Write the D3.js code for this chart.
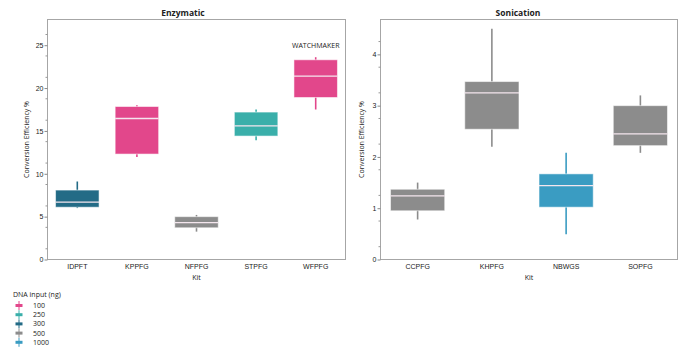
<!DOCTYPE html>
<html>
<head>
<meta charset="utf-8">
<script src="https://cdn.jsdelivr.net/npm/d3@7"></script>
<style>
  body { margin: 0; background: #fff; font-family: "Open Sans", "Noto Sans", sans-serif; }
  svg text { fill: #222; }
</style>
</head>
<body>
<script>
// Enzymatic panel data
var enzKits = ["IDPFT", "KPPFG", "NFPFG", "STPFG", "WFPFG"];
var enzInput = ["300", "100", "500", "250", "100"];
var enzMin = [6.0, 11.95, 3.25, 13.9, 17.5];
var enzQ1 = [6.1, 12.3, 3.7, 14.4, 18.9];
var enzMed = [6.7, 16.45, 4.3, 15.6, 21.4];
var enzQ3 = [8.1, 17.85, 5.0, 17.2, 23.3];
var enzMax = [9.1, 18.0, 5.2, 17.5, 23.6];
var enzTicks = [0, 5, 10, 15, 20, 25];

// Sonication panel data
var sonKits = ["CCPFG", "KHPFG", "NBWGS", "SOPFG"];
var sonInput = ["500", "500", "1000", "500"];
var sonMin = [0.78, 2.2, 0.49, 2.08];
var sonQ1 = [0.95, 2.54, 1.02, 2.22];
var sonMed = [1.24, 3.25, 1.44, 2.45];
var sonQ3 = [1.37, 3.47, 1.67, 3.0];
var sonMax = [1.5, 4.5, 2.08, 3.2];
var sonTicks = [0, 1, 2, 3, 4];

// Legende
var legendLabels = ["100", "250", "300", "500", "1000"];
var legendColors = ["#e2478b", "#3aafaa", "#236b86", "#8c8c8c", "#3a9cc2"];

var color = d3.scaleOrdinal().domain(legendLabels).range(legendColors);

var svg = d3.select("body").append("svg")
    .attr("width", 689)
    .attr("height", 354);

// ein Panel zeichnen
function panel(cfg) {
    var rows = cfg.kits.map((k, i) => ({
        kit: k, input: cfg.input[i], min: cfg.min[i], q1: cfg.q1[i],
        med: cfg.med[i], q3: cfg.q3[i], max: cfg.max[i]
    }));

    var x = d3.scaleBand().domain(cfg.kits).range([cfg.left, cfg.right]).padding(0);
    var y = d3.scaleLinear().domain([0, cfg.top]).range([259.5, 19.5]);
    var bw = x.bandwidth() * 0.73;

    var g = svg.append("g");

    // Rahmen
    g.append("rect")
        .attr("x", cfg.left).attr("y", 19.5)
        .attr("width", cfg.right - cfg.left).attr("height", 240)
        .attr("fill", "none").attr("stroke", "#a6a6a6").attr("stroke-width", 1);

    // Y Achse (major + minor ticks)
    var yAxis = g.append("g")
        .attr("transform", "translate(" + cfg.left + ",0)")
        .call(d3.axisLeft(y).tickValues(cfg.ticks).tickSize(3).tickFormat(d3.format("d")));
    yAxis.select(".domain").remove();
    yAxis.selectAll("line").attr("stroke", "#888");
    yAxis.selectAll("text").style("font-size", "7px").attr("fill", "#222").attr("x", -4);

    var minor = d3.range(cfg.step / 2, cfg.top, cfg.step).filter(v => cfg.ticks.indexOf(v) < 0);
    g.selectAll(".minor").data(minor).enter().append("line")
        .attr("x1", cfg.left - 2).attr("x2", cfg.left)
        .attr("y1", d => y(d)).attr("y2", d => y(d))
        .attr("stroke", "#999");

    // X Achse
    var xAxis = g.append("g")
        .attr("transform", "translate(0,259.5)")
        .call(d3.axisBottom(x).tickSize(0).tickPadding(5));
    xAxis.select(".domain").remove();
    xAxis.selectAll("text").style("font-size", "7px").attr("fill", "#222");

    // Whisker
    g.selectAll(".whisk").data(rows).enter().append("line")
        .attr("x1", d => x(d.kit) + x.bandwidth() / 2)
        .attr("x2", d => x(d.kit) + x.bandwidth() / 2)
        .attr("y1", d => y(d.min)).attr("y2", d => y(d.max))
        .attr("stroke", d => color(d.input)).attr("stroke-width", 1.6);

    // Boxen
    g.selectAll(".box").data(rows).enter().append("rect")
        .attr("x", d => x(d.kit) + (x.bandwidth() - bw) / 2)
        .attr("y", d => y(d.q3))
        .attr("width", bw)
        .attr("height", d => y(d.q1) - y(d.q3))
        .attr("fill", d => color(d.input))
        .attr("stroke", "#ffffff").attr("stroke-opacity", 0.55).attr("stroke-width", 1);

    // Median
    g.selectAll(".med").data(rows).enter().append("line")
        .attr("x1", d => x(d.kit) + (x.bandwidth() - bw) / 2)
        .attr("x2", d => x(d.kit) + (x.bandwidth() + bw) / 2)
        .attr("y1", d => y(d.med)).attr("y2", d => y(d.med))
        .attr("stroke", "#f4e6ee").attr("stroke-width", 1.3);

    // Titel
    g.append("text")
        .attr("x", cfg.titleX).attr("y", 16)
        .attr("text-anchor", "middle")
        .style("font-size", "8.5px").style("font-weight", "bold")
        .text(cfg.title);

    // Y Label
    g.append("text")
        .attr("transform", "translate(" + cfg.ylabX + ",139.5) rotate(-90)")
        .attr("text-anchor", "middle")
        .style("font-size", "7px")
        .text("Conversion Efficiency %");

    // X Label
    g.append("text")
        .attr("x", (cfg.left + cfg.right) / 2).attr("y", 280)
        .attr("text-anchor", "middle")
        .style("font-size", "7px")
        .text("Kit");

    return {x: x, y: y};
}

var enz = panel({
    kits: enzKits, input: enzInput, min: enzMin, q1: enzQ1, med: enzMed, q3: enzQ3, max: enzMax,
    ticks: enzTicks, step: 2.5, top: 28, left: 47.5, right: 345.5,
    title: "Enzymatic", titleX: 183, ylabX: 29
});

var son = panel({
    kits: sonKits, input: sonInput, min: sonMin, q1: sonQ1, med: sonMed, q3: sonQ3, max: sonMax,
    ticks: sonTicks, step: 0.5, top: 4.68, left: 380.5, right: 677.5,
    title: "Sonication", titleX: 518, ylabX: 364
});

// WATCHMAKER Beschriftung
svg.append("text")
    .attr("x", enz.x("WFPFG") + enz.x.bandwidth() / 2)
    .attr("y", enz.y(25) + 2.5)
    .attr("text-anchor", "middle")
    .style("font-size", "7px")
    .text("WATCHMAKER");

// Legende
var leg = svg.append("g").attr("transform", "translate(13,0)");
leg.append("text")
    .attr("x", 0).attr("y", 297)
    .style("font-size", "7px")
    .text("DNA input (ng)");

var items = leg.selectAll(".item").data(legendLabels).enter().append("g")
    .attr("transform", (d, i) => "translate(0," + (305.5 + i * 9.2) + ")");
items.append("line")
    .attr("x1", 6).attr("x2", 6).attr("y1", -4.5).attr("y2", 4.5)
    .attr("stroke", d => color(d)).attr("stroke-width", 1);
items.append("rect")
    .attr("x", 2.5).attr("y", -1.5).attr("width", 7).attr("height", 3)
    .attr("fill", d => color(d));
items.append("text")
    .attr("x", 20).attr("y", 2.5)
    .style("font-size", "7px")
    .text(d => d);
</script>
</body>
</html>
